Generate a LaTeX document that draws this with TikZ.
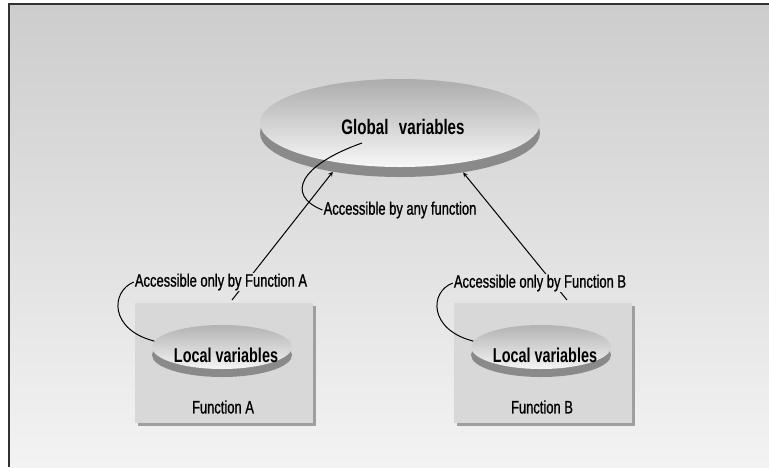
\documentclass[tikz,border=0pt]{standalone}
\usepackage{fontspec}
\setmainfont{Liberation Sans}[FakeStretch=0.72]
\newfontfamily\labfont{Liberation Sans}[FakeStretch=0.72, FakeBold=0.9]
\usetikzlibrary{shapes.geometric,shadows}

\definecolor{bgtop}{RGB}{205,205,205}
\definecolor{bgbot}{RGB}{243,243,243}
\definecolor{labbg}{RGB}{228,228,228}
\definecolor{boxgray}{RGB}{216,216,216}
\definecolor{rimgray}{RGB}{138,138,138}
\definecolor{framegray}{RGB}{50,50,50}

\begin{document}
\begin{tikzpicture}[x=1pt,y=-1pt]
        \useasboundingbox (0,0) rectangle (769,467);
        \fill[white] (0,0) rectangle (769,467);
        \shade[top color=bgtop, bottom color=bgbot] (9,4) rectangle (769,467);
        \draw[framegray, line width=2pt] (9,467) -- (9,4) -- (769,4);
        % function boxes
        \begin{scope}[every node/.style={rectangle, fill=boxgray, minimum width=178pt, minimum height=120pt, inner sep=0,
                        drop shadow={shadow xshift=3pt, shadow yshift=-3pt, fill=gray!75, opacity=1}}]
                \node (funA) at (224,363) {};
                \node (funB) at (543,363) {};
        \end{scope}
        % discs
        \begin{scope}[every node/.style={ellipse, inner sep=0}]
                \node[fill=rimgray, minimum width=280pt, minimum height=88pt] (rim) at (400,133) {};
                \node[top color=gray!65, bottom color=gray!6, minimum width=280pt, minimum height=88pt] (glob) at (400,123) {};
                \node[fill=rimgray, minimum width=140pt, minimum height=44pt] (rimA) at (222,355) {};
                \node[top color=gray!60, bottom color=gray!8, minimum width=140pt, minimum height=44pt] (locA) at (222,347) {};
                \node[fill=rimgray, minimum width=140pt, minimum height=44pt] (rimB) at (541,355) {};
                \node[top color=gray!60, bottom color=gray!8, minimum width=140pt, minimum height=44pt] (locB) at (541,347) {};
        \end{scope}
        \coordinate (startA) at (232,300);
        \coordinate (startB) at (567,300);
        \coordinate (hook) at (362,143);
        \begin{scope}[every path/.style={line width=1pt, ->, >=stealth}]
                \path (startA) edge (rim.210);
                \path (startB) edge (rim.-32);
        \end{scope}
        % texts
        \begin{scope}[every node/.style={inner sep=1pt, font=\labfont\fontsize{18}{20}\selectfont}]
                \node[font=\rmfamily\fontsize{21}{24}\selectfont\bfseries] (globtxt) at (403,127) {Global\hspace{.3em} variables};
                \node[font=\rmfamily\fontsize{20}{22}\selectfont\bfseries] (locAtxt) at (226,355) {Local variables};
                \node[font=\rmfamily\fontsize{20}{22}\selectfont\bfseries] (locBtxt) at (545,355) {Local variables};
                \node (funAtxt) at (223,407) {Function A};
                \node (funBtxt) at (542,407) {Function B};
                \node[fill=labbg] (labA) at (221,282) {Accessible only by Function A};
                \node[fill=labbg] (labB) at (540,283) {Accessible only by Function B};
                \node (laball) at (400,210) {Accessible by any function};
        \end{scope}
        % callouts
        \begin{scope}[every path/.style={line width=1pt}]
                \draw (laball.west) .. controls (285,195) and (300,165) .. (hook);
                \draw (labA.west) .. controls (110,292) and (110,330) .. (locA.175);
                \draw (labB.west) .. controls (429,292) and (429,330) .. (locB.175);
        \end{scope}
\end{tikzpicture}
\end{document}
